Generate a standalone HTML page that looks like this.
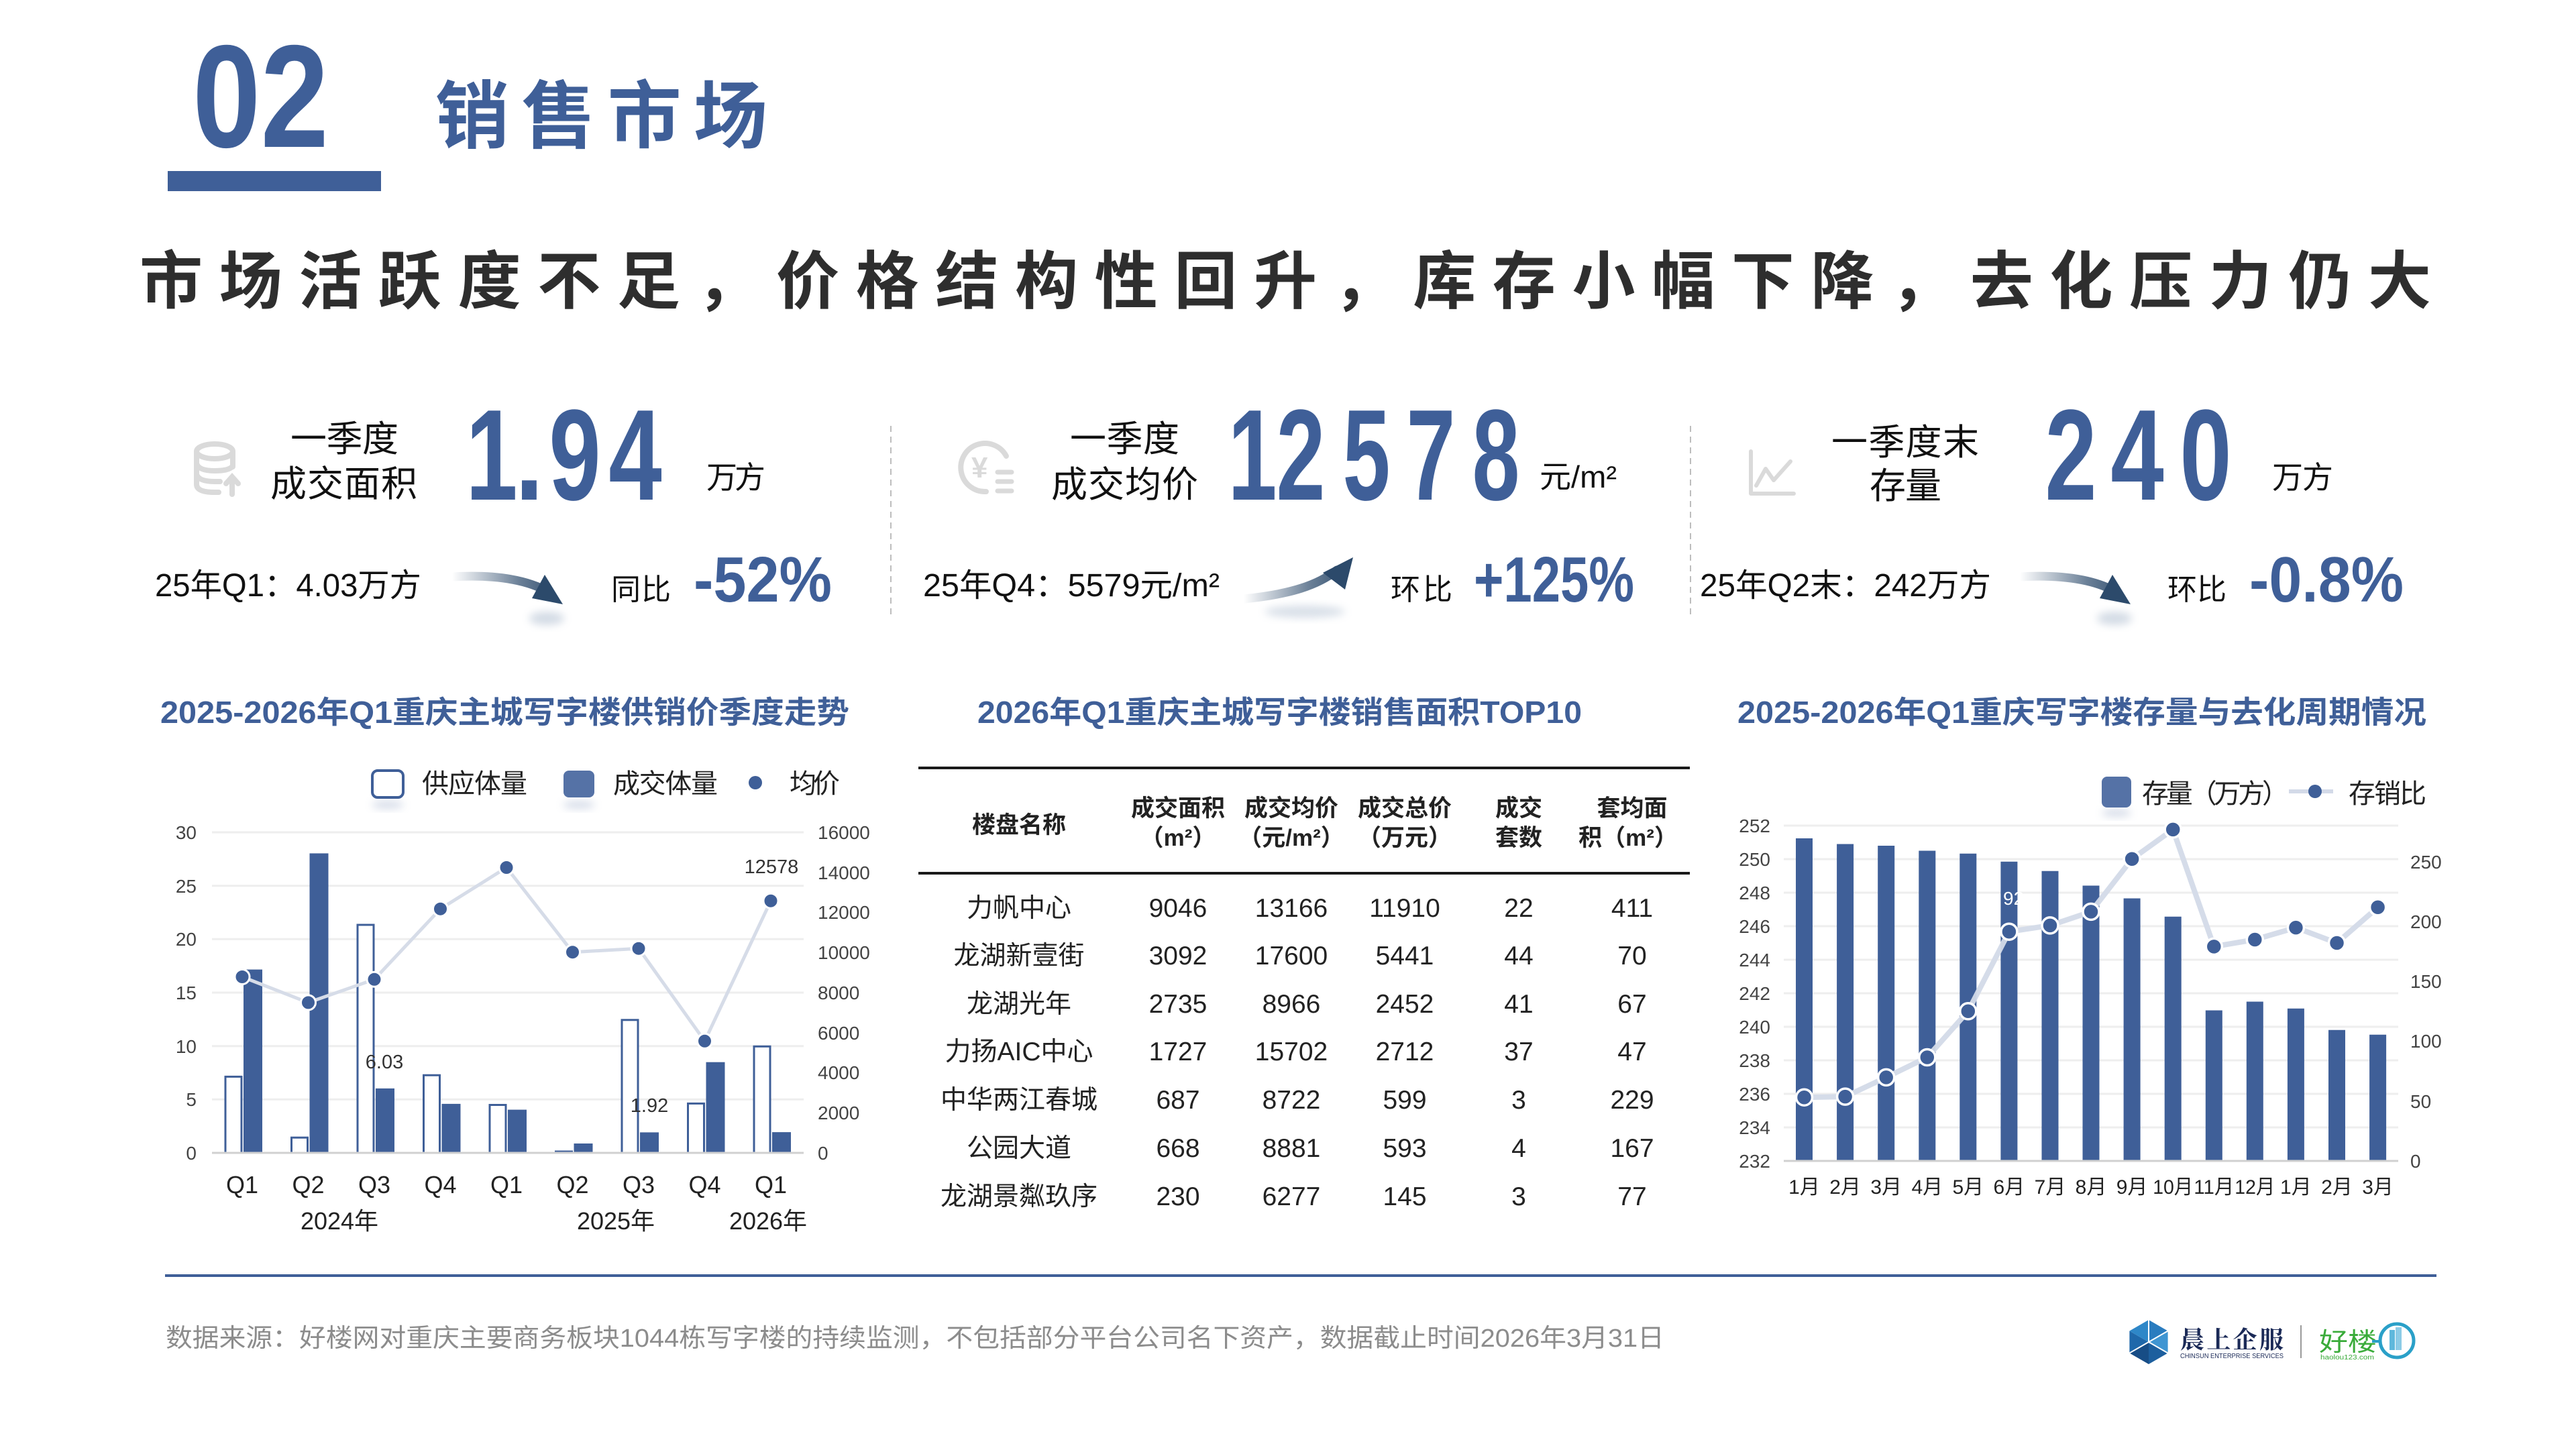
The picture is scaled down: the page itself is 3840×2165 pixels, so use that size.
<!DOCTYPE html>
<html><head><meta charset="utf-8"><style>
html,body{margin:0;padding:0;background:#fff;}
body{width:3840px;height:2160px;overflow:hidden;}
svg text{font-family:"Liberation Sans","Noto Sans CJK SC",sans-serif;}
</style></head><body>
<svg width="3840" height="2160" viewBox="0 0 3840 2160" xmlns="http://www.w3.org/2000/svg">
<defs>
<linearGradient id="ga1" gradientUnits="userSpaceOnUse" x1="674" y1="0" x2="840" y2="0"><stop offset="0" stop-color="#2c4a6b" stop-opacity="0"/><stop offset="0.6" stop-color="#2c4a6b" stop-opacity="0.7"/><stop offset="1" stop-color="#2c4a6b"/></linearGradient>
<linearGradient id="ga2" gradientUnits="userSpaceOnUse" x1="1854" y1="0" x2="2017" y2="0"><stop offset="0" stop-color="#2c4a6b" stop-opacity="0"/><stop offset="0.6" stop-color="#2c4a6b" stop-opacity="0.7"/><stop offset="1" stop-color="#2c4a6b"/></linearGradient>
<filter id="bl" x="-50%" y="-50%" width="200%" height="200%"><feGaussianBlur stdDeviation="6"/></filter>
</defs>

<!-- Header -->
<text x="287" y="219" font-size="218" font-weight="700" fill="#3f5f98" textLength="203" lengthAdjust="spacingAndGlyphs">02</text>
<rect x="250" y="255" width="318" height="30" fill="#3f5f98"/>
<text x="649" y="212" font-size="110" font-weight="700" fill="#3f5f98" textLength="495" lengthAdjust="spacing">销售市场</text>
<text x="208" y="452" font-size="94" font-weight="700" fill="#2e2e2e" textLength="3416" lengthAdjust="spacing">市场活跃度不足，价格结构性回升，库存小幅下降，去化压力仍大</text>

<!-- KPI block 1 -->
<g fill="none" stroke="#dadada" stroke-width="8" stroke-linecap="round">
<ellipse cx="320" cy="673" rx="27" ry="11"/>
<path d="M293,673 V722 Q293,734 320,734 L326,734"/>
<path d="M347,673 V696"/>
<path d="M293,691 Q296,702 320,702 Q340,702 346,696"/>
<path d="M293,707 Q296,718 320,718 L328,718"/>
<path d="M346,737 V712 M337,721 L346,711 L355,721"/>
</g>
<text x="433" y="673" font-size="54" fill="#111" textLength="161" lengthAdjust="spacing">一季度</text>
<text x="403" y="740" font-size="54" fill="#111" textLength="219" lengthAdjust="spacing">成交面积</text>
<g font-size="193" font-weight="700" fill="#3f5f98" text-anchor="middle">
<text transform="translate(733,745) scale(0.72,1)">1</text>
<text transform="translate(789,745) scale(0.8,1)">.</text>
<text transform="translate(857,745) scale(0.72,1)">9</text>
<text transform="translate(947,745) scale(0.74,1)">4</text>
</g>
<text x="1053" y="728" font-size="46" fill="#111" textLength="88" lengthAdjust="spacing">万方</text>
<text x="231" y="889" font-size="48" fill="#111" textLength="397" lengthAdjust="spacingAndGlyphs">25年Q1：4.03万方</text>
<ellipse cx="815" cy="922" rx="26" ry="10" fill="#9fb0c6" opacity="0.45" filter="url(#bl)"/>
<path d="M674,860 C745,856 790,866 820,884" fill="none" stroke="url(#ga1)" stroke-width="13" stroke-linecap="round"/>
<polygon points="839,901 812,857 793,892" fill="#2c4a6b"/>
<text x="911" y="894" font-size="44" fill="#111" textLength="89" lengthAdjust="spacing">同比</text>
<text x="1034" y="897" font-size="96" font-weight="700" fill="#3f5f98" textLength="206" lengthAdjust="spacingAndGlyphs">-52%</text>
<line x1="1328" y1="635" x2="1328" y2="918" stroke="#bdbdbd" stroke-width="2" stroke-dasharray="9,7"/>

<!-- KPI block 2 -->
<g fill="none" stroke="#dadada" stroke-width="8" stroke-linecap="round">
<path d="M1500,680 A36,36 0 1 0 1470,733"/>
</g>
<text x="1448" y="712" font-size="44" font-weight="700" fill="#dadada">¥</text>
<g stroke="#dadada" stroke-width="7" stroke-linecap="round">
<line x1="1487" y1="704" x2="1508" y2="704"/><line x1="1487" y1="718" x2="1508" y2="718"/><line x1="1487" y1="732" x2="1508" y2="732"/>
</g>
<text x="1595" y="673" font-size="54" fill="#111" textLength="163" lengthAdjust="spacing">一季度</text>
<text x="1567" y="741" font-size="54" fill="#111" textLength="219" lengthAdjust="spacing">成交均价</text>
<g font-size="193" font-weight="700" fill="#3f5f98" text-anchor="middle">
<text transform="translate(1867,745) scale(0.68,1)">1</text>
<text transform="translate(1939,745) scale(0.68,1)">2</text>
<text transform="translate(2037,745) scale(0.66,1)">5</text>
<text transform="translate(2133,745) scale(0.68,1)">7</text>
<text transform="translate(2230,745) scale(0.66,1)">8</text>
</g>
<text x="2295" y="727" font-size="46" fill="#111" textLength="115" lengthAdjust="spacingAndGlyphs">元/m²</text>
<text x="1376" y="889" font-size="48" fill="#111" textLength="442" lengthAdjust="spacingAndGlyphs">25年Q4：5579元/m²</text>
<ellipse cx="1945" cy="912" rx="60" ry="9" fill="#9fb0c6" opacity="0.4" filter="url(#bl)"/>
<path d="M1854,893 C1925,886 1965,872 1993,850" fill="none" stroke="url(#ga2)" stroke-width="13" stroke-linecap="round"/>
<polygon points="2017,831 1972,854 2005,879" fill="#2c4a6b"/>
<text x="2073" y="894" font-size="44" fill="#111" textLength="92" lengthAdjust="spacing">环比</text>
<text x="2197" y="897" font-size="96" font-weight="700" fill="#3f5f98" textLength="239" lengthAdjust="spacingAndGlyphs">+125%</text>
<line x1="2520" y1="635" x2="2520" y2="918" stroke="#bdbdbd" stroke-width="2" stroke-dasharray="9,7"/>

<!-- KPI block 3 -->
<g fill="none" stroke="#dadada" stroke-width="6" stroke-linecap="round" stroke-linejoin="round">
<path d="M2610,673 V736 H2674"/>
<path d="M2618,724 L2632,699 L2644,716 L2669,688"/>
</g>
<text x="2730" y="678" font-size="54" fill="#111" textLength="220" lengthAdjust="spacing">一季度末</text>
<text x="2787" y="743" font-size="54" fill="#111" textLength="107" lengthAdjust="spacing">存量</text>
<g font-size="193" font-weight="700" fill="#3f5f98" text-anchor="middle">
<text transform="translate(3087,745) scale(0.72,1)">2</text>
<text transform="translate(3186,745) scale(0.74,1)">4</text>
<text transform="translate(3288,745) scale(0.72,1)">0</text>
</g>
<text x="3387" y="728" font-size="46" fill="#111" textLength="91" lengthAdjust="spacing">万方</text>
<text x="2534" y="889" font-size="48" fill="#111" textLength="434" lengthAdjust="spacingAndGlyphs">25年Q2末：242万方</text>
<g transform="translate(2337,0)">
<ellipse cx="815" cy="922" rx="26" ry="10" fill="#9fb0c6" opacity="0.45" filter="url(#bl)"/>
<path d="M674,860 C745,856 790,866 820,884" fill="none" stroke="url(#ga1)" stroke-width="13" stroke-linecap="round"/>
<polygon points="839,901 812,857 793,892" fill="#2c4a6b"/>
</g>
<text x="3231" y="894" font-size="44" fill="#111" textLength="88" lengthAdjust="spacing">环比</text>
<text x="3353" y="897" font-size="96" font-weight="700" fill="#3f5f98" textLength="230" lengthAdjust="spacingAndGlyphs">-0.8%</text>

<!-- Chart titles -->
<text x="239" y="1078" font-size="46" font-weight="700" fill="#3f5f98" textLength="1027" lengthAdjust="spacingAndGlyphs">2025-2026年Q1重庆主城写字楼供销价季度走势</text>
<text x="1457" y="1078" font-size="46" font-weight="700" fill="#3f5f98" textLength="901" lengthAdjust="spacingAndGlyphs">2026年Q1重庆主城写字楼销售面积TOP10</text>
<text x="2590" y="1078" font-size="46" font-weight="700" fill="#3f5f98" textLength="1027" lengthAdjust="spacingAndGlyphs">2025-2026年Q1重庆写字楼存量与去化周期情况</text>

<!-- LEFT CHART -->
<ellipse cx="578" cy="1200" rx="24" ry="6" fill="#8a9cc0" opacity="0.35" filter="url(#bl)"/>
<ellipse cx="863" cy="1200" rx="24" ry="6" fill="#8a9cc0" opacity="0.35" filter="url(#bl)"/>
<rect x="555" y="1149" width="46" height="40" rx="8" fill="#fff" stroke="#3f5f98" stroke-width="4"/>
<text x="629" y="1182" font-size="40" fill="#222" textLength="157" lengthAdjust="spacing">供应体量</text>
<rect x="840" y="1149" width="46" height="40" rx="8" fill="#5572a6"/>
<text x="914" y="1182" font-size="40" fill="#222" textLength="156" lengthAdjust="spacing">成交体量</text>
<circle cx="1126" cy="1167" r="10" fill="#3f5f98"/>
<text x="1177" y="1182" font-size="40" fill="#222" textLength="75" lengthAdjust="spacing">均价</text>

<g stroke="#eeeeee" stroke-width="3">
<line x1="316" y1="1241" x2="1198" y2="1241"/>
<line x1="316" y1="1320.7" x2="1198" y2="1320.7"/>
<line x1="316" y1="1400.3" x2="1198" y2="1400.3"/>
<line x1="316" y1="1480" x2="1198" y2="1480"/>
<line x1="316" y1="1559.7" x2="1198" y2="1559.7"/>
<line x1="316" y1="1639.3" x2="1198" y2="1639.3"/>
</g>
<g font-size="28" fill="#444" text-anchor="end">
<text x="293" y="1251">30</text><text x="293" y="1331">25</text><text x="293" y="1410">20</text><text x="293" y="1490">15</text><text x="293" y="1570">10</text><text x="293" y="1649">5</text><text x="293" y="1729">0</text>
</g>
<g font-size="28" fill="#444">
<text x="1219" y="1251">16000</text><text x="1219" y="1311">14000</text><text x="1219" y="1370">12000</text><text x="1219" y="1430">10000</text><text x="1219" y="1490">8000</text><text x="1219" y="1550">6000</text><text x="1219" y="1609">4000</text><text x="1219" y="1669">2000</text><text x="1219" y="1729">0</text>
</g>
<g fill="#fff" stroke="#3f5f98" stroke-width="3">
<rect x="336" y="1605.4" width="24" height="113.6"/>
<rect x="434.5" y="1696.2" width="24" height="22.8"/>
<rect x="533" y="1379" width="24" height="340"/>
<rect x="631.5" y="1603.2" width="24" height="115.8"/>
<rect x="730" y="1647.5" width="24" height="71.5"/>
<rect x="828.5" y="1717" width="24" height="2"/>
<rect x="927" y="1520.8" width="24" height="198.2"/>
<rect x="1025.5" y="1645.4" width="24" height="73.6"/>
<rect x="1124" y="1560.3" width="24" height="158.7"/>
</g>
<g fill="#3f5f98">
<rect x="363" y="1445.6" width="28" height="273.4"/>
<rect x="461.5" y="1272.4" width="28" height="446.6"/>
<rect x="560" y="1622.9" width="28" height="96.1"/>
<rect x="658.5" y="1645.9" width="28" height="73.1"/>
<rect x="757" y="1654.6" width="28" height="64.4"/>
<rect x="855.5" y="1705" width="28" height="14"/>
<rect x="954" y="1688.4" width="28" height="30.6"/>
<rect x="1052.5" y="1583.7" width="28" height="135.3"/>
<rect x="1151" y="1688.1" width="28" height="30.9"/>
</g>
<line x1="316" y1="1719" x2="1198" y2="1719" stroke="#d0d0d0" stroke-width="3"/>
<polyline points="361,1456.5 459.5,1494.9 558,1460.3 656.5,1355.2 755,1293.5 853.5,1419.7 952,1414.2 1050.5,1552.3 1149,1343.2" fill="none" stroke="#d6dce8" stroke-width="5" stroke-linejoin="round"/>
<g fill="#3f5f98" stroke="#fff" stroke-width="3">
<circle cx="361" cy="1456.5" r="11"/><circle cx="459.5" cy="1494.9" r="11"/><circle cx="558" cy="1460.3" r="11"/><circle cx="656.5" cy="1355.2" r="11"/><circle cx="755" cy="1293.5" r="11"/><circle cx="853.5" cy="1419.7" r="11"/><circle cx="952" cy="1414.2" r="11"/><circle cx="1050.5" cy="1552.3" r="11"/><circle cx="1149" cy="1343.2" r="11"/>
</g>
<g font-size="29" fill="#333" text-anchor="middle">
<text x="573" y="1593">6.03</text>
<text x="968" y="1658">1.92</text>
<text x="1150" y="1302">12578</text>
</g>
<g font-size="36" fill="#222" text-anchor="middle">
<text x="361" y="1779">Q1</text><text x="459.5" y="1779">Q2</text><text x="558" y="1779">Q3</text><text x="656.5" y="1779">Q4</text><text x="755" y="1779">Q1</text><text x="853.5" y="1779">Q2</text><text x="952" y="1779">Q3</text><text x="1050.5" y="1779">Q4</text><text x="1149" y="1779">Q1</text>
<text x="506" y="1833">2024年</text><text x="918" y="1833">2025年</text><text x="1145" y="1833">2026年</text>
</g>

<!-- TABLE -->
<line x1="1369" y1="1145" x2="2519" y2="1145" stroke="#1a1a1a" stroke-width="4"/>
<line x1="1369" y1="1302" x2="2519" y2="1302" stroke="#1a1a1a" stroke-width="4"/>
<g font-size="35" font-weight="700" fill="#222" text-anchor="middle">
<text x="1519" y="1242">楼盘名称</text>
<text x="1756" y="1217">成交面积</text><text x="1756" y="1261">（m²）</text>
<text x="1925" y="1217">成交均价</text><text x="1925" y="1261">（元/m²）</text>
<text x="2094" y="1217">成交总价</text><text x="2094" y="1261">（万元）</text>
<text x="2264" y="1217">成交</text><text x="2264" y="1261">套数</text>
<text x="2433" y="1217">套均面</text><text x="2427" y="1261">积（m²）</text>
</g>
<g font-size="39" fill="#222" text-anchor="middle">
<text x="1519" y="1367">力帆中心</text><text x="1756" y="1367">9046</text><text x="1925" y="1367">13166</text><text x="2094" y="1367">11910</text><text x="2264" y="1367">22</text><text x="2433" y="1367">411</text>
<text x="1519" y="1438">龙湖新壹街</text><text x="1756" y="1438">3092</text><text x="1925" y="1438">17600</text><text x="2094" y="1438">5441</text><text x="2264" y="1438">44</text><text x="2433" y="1438">70</text>
<text x="1519" y="1510">龙湖光年</text><text x="1756" y="1510">2735</text><text x="1925" y="1510">8966</text><text x="2094" y="1510">2452</text><text x="2264" y="1510">41</text><text x="2433" y="1510">67</text>
<text x="1519" y="1581">力扬AIC中心</text><text x="1756" y="1581">1727</text><text x="1925" y="1581">15702</text><text x="2094" y="1581">2712</text><text x="2264" y="1581">37</text><text x="2433" y="1581">47</text>
<text x="1519" y="1653">中华两江春城</text><text x="1756" y="1653">687</text><text x="1925" y="1653">8722</text><text x="2094" y="1653">599</text><text x="2264" y="1653">3</text><text x="2433" y="1653">229</text>
<text x="1519" y="1725">公园大道</text><text x="1756" y="1725">668</text><text x="1925" y="1725">8881</text><text x="2094" y="1725">593</text><text x="2264" y="1725">4</text><text x="2433" y="1725">167</text>
<text x="1519" y="1797">龙湖景粼玖序</text><text x="1756" y="1797">230</text><text x="1925" y="1797">6277</text><text x="2094" y="1797">145</text><text x="2264" y="1797">3</text><text x="2433" y="1797">77</text>
</g>

<!-- RIGHT CHART -->
<ellipse cx="3155" cy="1212" rx="22" ry="6" fill="#8a9cc0" opacity="0.35" filter="url(#bl)"/>
<rect x="3133" y="1158" width="44" height="46" rx="8" fill="#5572a6"/>
<text x="3193" y="1197" font-size="40" fill="#222" textLength="219" lengthAdjust="spacing">存量（万方）</text>
<line x1="3412" y1="1180" x2="3478" y2="1180" stroke="#d3dae8" stroke-width="6"/>
<circle cx="3451" cy="1180" r="10" fill="#3f5f98"/>
<text x="3501" y="1197" font-size="40" fill="#222" textLength="116" lengthAdjust="spacing">存销比</text>

<g stroke="#eeeeee" stroke-width="3">
<line x1="2659" y1="1231" x2="3575" y2="1231"/><line x1="2659" y1="1281" x2="3575" y2="1281"/><line x1="2659" y1="1331" x2="3575" y2="1331"/><line x1="2659" y1="1381" x2="3575" y2="1381"/><line x1="2659" y1="1431" x2="3575" y2="1431"/><line x1="2659" y1="1481" x2="3575" y2="1481"/><line x1="2659" y1="1531" x2="3575" y2="1531"/><line x1="2659" y1="1581" x2="3575" y2="1581"/><line x1="2659" y1="1631" x2="3575" y2="1631"/><line x1="2659" y1="1681" x2="3575" y2="1681"/>
</g>
<g font-size="28" fill="#444" text-anchor="end">
<text x="2639" y="1241">252</text><text x="2639" y="1291">250</text><text x="2639" y="1341">248</text><text x="2639" y="1391">246</text><text x="2639" y="1441">244</text><text x="2639" y="1491">242</text><text x="2639" y="1541">240</text><text x="2639" y="1591">238</text><text x="2639" y="1641">236</text><text x="2639" y="1691">234</text><text x="2639" y="1741">232</text>
</g>
<g font-size="28" fill="#444">
<text x="3593" y="1295">250</text><text x="3593" y="1384">200</text><text x="3593" y="1473">150</text><text x="3593" y="1562">100</text><text x="3593" y="1652">50</text><text x="3593" y="1741">0</text>
</g>
<g fill="#3f5f98">
<rect x="2677" y="1250" width="25" height="481"/>
<rect x="2738.1" y="1258.5" width="25" height="472.5"/>
<rect x="2799.2" y="1261" width="25" height="470"/>
<rect x="2860.3" y="1268.5" width="25" height="462.5"/>
<rect x="2921.3" y="1272.75" width="25" height="458.25"/>
<rect x="2982.4" y="1284.75" width="25" height="446.25"/>
<rect x="3043.5" y="1298.75" width="25" height="432.25"/>
<rect x="3104.5" y="1320.5" width="25" height="410.5"/>
<rect x="3165.6" y="1339.5" width="25" height="391.5"/>
<rect x="3226.7" y="1366.75" width="25" height="364.25"/>
<rect x="3287.8" y="1506.5" width="25" height="224.5"/>
<rect x="3348.8" y="1493.5" width="25" height="237.5"/>
<rect x="3409.9" y="1503.75" width="25" height="227.25"/>
<rect x="3471" y="1535.75" width="25" height="195.25"/>
<rect x="3532.1" y="1542.75" width="25" height="188.25"/>
</g>
<text x="2986" y="1349" font-size="28" fill="#fff">92</text>
<line x1="2659" y1="1731" x2="3575" y2="1731" stroke="#d0d0d0" stroke-width="3"/>
<polyline points="2689.5,1636.2 2750.6,1635.1 2811.7,1606.4 2872.8,1576.5 2933.8,1507.8 2994.9,1389.2 3056,1379.9 3117,1359.4 3178.1,1280.8 3239.2,1236.9 3300.3,1411.4 3361.3,1401 3422.4,1383.1 3483.5,1406 3544.6,1352.8" fill="none" stroke="#d3dae8" stroke-width="8" stroke-linejoin="round" opacity="0.95"/>
<g fill="#3f5f98" stroke="#fff" stroke-width="3.5">
<circle cx="2689.5" cy="1636.2" r="12"/><circle cx="2750.6" cy="1635.1" r="12"/><circle cx="2811.7" cy="1606.4" r="12"/><circle cx="2872.8" cy="1576.5" r="12"/><circle cx="2933.8" cy="1507.8" r="12"/><circle cx="2994.9" cy="1389.2" r="12"/><circle cx="3056" cy="1379.9" r="12"/><circle cx="3117" cy="1359.4" r="12"/><circle cx="3178.1" cy="1280.8" r="12"/><circle cx="3239.2" cy="1236.9" r="12"/><circle cx="3300.3" cy="1411.4" r="12"/><circle cx="3361.3" cy="1401" r="12"/><circle cx="3422.4" cy="1383.1" r="12"/><circle cx="3483.5" cy="1406" r="12"/><circle cx="3544.6" cy="1352.8" r="12"/>
</g>
<g font-size="30" fill="#222" text-anchor="middle">
<text x="2689.5" y="1780">1月</text><text x="2750.6" y="1780">2月</text><text x="2811.7" y="1780">3月</text><text x="2872.8" y="1780">4月</text><text x="2933.8" y="1780">5月</text><text x="2994.9" y="1780">6月</text><text x="3056" y="1780">7月</text><text x="3117" y="1780">8月</text><text x="3178.1" y="1780">9月</text><text x="3239.2" y="1780" textLength="60" lengthAdjust="spacingAndGlyphs">10月</text><text x="3300.3" y="1780" textLength="60" lengthAdjust="spacingAndGlyphs">11月</text><text x="3361.3" y="1780" textLength="60" lengthAdjust="spacingAndGlyphs">12月</text><text x="3422.4" y="1780">1月</text><text x="3483.5" y="1780">2月</text><text x="3544.6" y="1780">3月</text>
</g>

<!-- Footer -->
<rect x="246" y="1900" width="3386" height="4" fill="#3f5f98"/>
<text x="247" y="2008" font-size="38" fill="#8c8c8c" textLength="2234" lengthAdjust="spacingAndGlyphs">数据来源：好楼网对重庆主要商务板块1044栋写字楼的持续监测，不包括部分平台公司名下资产，数据截止时间2026年3月31日</text>

<!-- Logos -->
<g transform="translate(3203,2001)">
<polygon points="0,-33 28.6,-16.5 0,0" fill="#2a7cbf"/>
<polygon points="28.6,-16.5 28.6,16.5 0,0" fill="#3f95d2"/>
<polygon points="28.6,16.5 0,33 0,0" fill="#1d5f9e"/>
<polygon points="0,33 -28.6,16.5 0,0" fill="#174d86"/>
<polygon points="-28.6,16.5 -28.6,-16.5 0,0" fill="#1f68aa"/>
<polygon points="-28.6,-16.5 0,-33 0,0" fill="#2e87c8"/>
<g stroke="#fff" stroke-width="2"><line x1="0" y1="0" x2="0" y2="-33"/><line x1="0" y1="0" x2="28.6" y2="16.5"/><line x1="0" y1="0" x2="-28.6" y2="16.5"/><line x1="0" y1="0" x2="28.6" y2="-16.5"/></g>
</g>
<text x="3250" y="2010" font-size="36" font-weight="700" fill="#1b2a57" style="font-family:'Noto Serif CJK SC','Noto Sans CJK SC',serif" textLength="154" lengthAdjust="spacing">晨上企服</text>
<text x="3250" y="2025" font-size="10" fill="#1b2a57" textLength="154" lengthAdjust="spacingAndGlyphs">CHINSUN ENTERPRISE SERVICES</text>
<line x1="3430" y1="1976" x2="3430" y2="2025" stroke="#9a9a9a" stroke-width="2"/>
<text x="3457" y="2014" font-size="38" fill="#3aab3a" textLength="86" lengthAdjust="spacingAndGlyphs">好楼</text>
<text x="3459" y="2027" font-size="10" fill="#3aab3a" textLength="80" lengthAdjust="spacingAndGlyphs">haolou123.com</text>
<line x1="3536" y1="2000" x2="3548" y2="2000" stroke="#2aa0c8" stroke-width="4"/>
<circle cx="3573" cy="1999" r="25" fill="none" stroke="#2aa0c8" stroke-width="5"/>
<rect x="3562" y="1983" width="8" height="30" fill="#5fb8dc"/>
<rect x="3571" y="1979" width="9" height="34" fill="#8ccbe6"/>
</svg>
</body></html>
